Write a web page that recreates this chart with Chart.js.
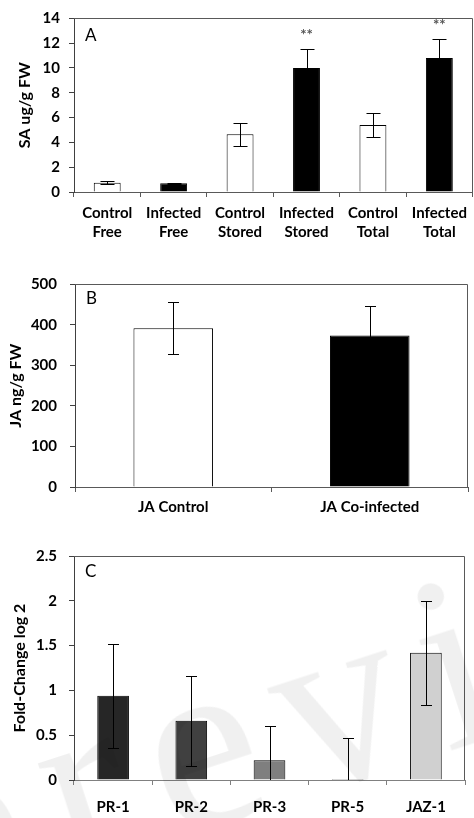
<!DOCTYPE html>
<html>
<head>
<meta charset="utf-8">
<script src="https://cdn.jsdelivr.net/npm/chart.js@4.4.1/dist/chart.umd.min.js"></script>
<style>
    html, body { margin: 0; padding: 0; background: #fff; }
    #page { position: relative; width: 474px; height: 818px; overflow: hidden; }
    .panel { position: absolute; left: 0; width: 474px; }
    #panelA { top: 0; height: 262px; }
    #panelB { top: 262px; height: 265px; }
    #panelC { top: 527px; height: 291px; }
    #stamp {
        position: absolute; left: -75px; top: 712px;
        font-family: "Liberation Serif", serif; font-size: 250px; line-height: 250px;
        letter-spacing: 26px; color: rgba(0, 0, 0, 0.06);
        transform: rotate(-18deg); transform-origin: 0 209px;
        white-space: nowrap; pointer-events: none; z-index: 5;
    }
</style>
</head>
<body>
<div id="page">
    <div class="panel" id="panelA"><canvas id="chartA" width="474" height="262"></canvas></div>
    <div class="panel" id="panelB"><canvas id="chartB" width="474" height="265"></canvas></div>
    <div class="panel" id="panelC"><canvas id="chartC" width="474" height="291"></canvas></div>
    <div id="stamp">preview</div>
</div>
<script>
// A - salicylic acid, free / stored / total
var saLabels = [['Control', 'Free'], ['Infected', 'Free'], ['Control', 'Stored'], ['Infected', 'Stored'], ['Control', 'Total'], ['Infected', 'Total']];
var saValues = [0.75, 0.7, 4.65, 10.0, 5.4, 10.8];
var saErrors = [0.12, 0.05, 0.93, 1.5, 0.95, 1.5];
var saStars = ['', '', '', '**', '', '**'];
var saColors = ['#ffffff', '#000000', '#ffffff', '#000000', '#ffffff', '#000000'];

// B - jasmonic acid
var jaLabels = ['JA Control', 'JA Co-infected'];
var jaValues = [392, 374];
var jaErrors = [65, 73];
var jaColors = ['#ffffff', '#000000'];

// C - expression, fold change (log 2)
var geneLabels = ['PR-1', 'PR-2', 'PR-3', 'PR-5', 'JAZ-1'];
var geneValues = [0.94, 0.66, 0.22, 0.01, 1.42];
var geneErrors = [0.58, 0.5, 0.38, 0.46, 0.58];
var geneColors = ['#262626', '#404040', '#7f7f7f', '#a6a6a6', '#d0d0d0'];

var tickFont = { family: 'Lato', weight: 'bold', size: 15, lineHeight: 1.25 };
var titleFont = { family: 'Lato', weight: 'bold', size: 16 };

// frame, error bars, significance marks and the panel letter
var panelExtras = {
    id: 'panelExtras',
    afterDatasetsDraw: function (chart, args, opts) {
        var ctx = chart.ctx;
        var area = chart.chartArea;
        var ds = chart.data.datasets[0];
        var meta = chart.getDatasetMeta(0);
        var y = chart.scales.y;

        ctx.save();
        ctx.lineWidth = 1;
        ctx.strokeStyle = opts.frameColor;
        ctx.beginPath();
        ctx.moveTo(area.left, Math.round(area.top) + 0.5);
        ctx.lineTo(Math.round(area.right) - 0.5, Math.round(area.top) + 0.5);
        ctx.lineTo(Math.round(area.right) - 0.5, area.bottom);
        ctx.stroke();

        // clip so the lower whisker stops at the zero line
        ctx.save();
        ctx.beginPath();
        ctx.rect(area.left, area.top, area.right - area.left, area.bottom - area.top);
        ctx.clip();
        ctx.strokeStyle = opts.errorColor;
        var half = opts.capWidth / 2;
        meta.data.forEach(function (bar, i) {
            var v = ds.data[i], e = ds.errors[i];
            var x = Math.round(bar.x) + 0.5;
            var hi = Math.round(y.getPixelForValue(v + e)) + 0.5;
            var lo = Math.round(y.getPixelForValue(v - e)) + 0.5;
            ctx.beginPath();
            ctx.moveTo(x, hi); ctx.lineTo(x, lo);
            ctx.moveTo(x - half, hi); ctx.lineTo(x + half, hi);
            ctx.moveTo(x - half, lo); ctx.lineTo(x + half, lo);
            ctx.stroke();
        });
        ctx.restore();

        if (ds.stars) {
            ctx.fillStyle = '#555';
            ctx.font = 'bold 15px Lato';
            ctx.textAlign = 'center';
            ctx.textBaseline = 'middle';
            meta.data.forEach(function (bar, i) {
                if (!ds.stars[i]) return;
                var top = y.getPixelForValue(ds.data[i] + ds.errors[i]);
                ctx.fillText(ds.stars[i], bar.x, top - 14);
            });
        }

        ctx.fillStyle = '#000';
        ctx.font = '17px Lato';
        ctx.textAlign = 'left';
        ctx.textBaseline = 'alphabetic';
        ctx.fillText(opts.letter, area.left + 11, area.top + opts.letterY);
        ctx.restore();
    }
};

function plainNumber(value) {
    return String(Number(value.toFixed(2)));
}

function buildPanel(id, cfg) {
    return new Chart(document.getElementById(id), {
        type: 'bar',
        data: {
            labels: cfg.labels,
            datasets: [{
                data: cfg.values,
                errors: cfg.errors,
                stars: cfg.stars,
                backgroundColor: cfg.colors,
                borderColor: '#000',
                borderWidth: 1,
                barPercentage: 0.405,
                categoryPercentage: 1
            }]
        },
        options: {
            responsive: false,
            animation: false,
            layout: { padding: cfg.padding },
            plugins: {
                legend: { display: false },
                tooltip: { enabled: false },
                panelExtras: { letter: cfg.letter, letterY: cfg.letterY, frameColor: '#595959', errorColor: '#000', capWidth: cfg.cap }
            },
            scales: {
                x: {
                    grid: { offset: true, drawOnChartArea: false, tickLength: 5, color: cfg.xLine },
                    border: { color: cfg.xLine },
                    ticks: { padding: cfg.xPad, color: '#000', font: tickFont, maxRotation: 0, autoSkip: false },
                    afterFit: function (s) { s.height = cfg.xHeight; }
                },
                y: {
                    min: 0,
                    max: cfg.max,
                    ticks: { stepSize: cfg.step, padding: cfg.yPad, color: '#000', font: tickFont, callback: plainNumber },
                    grid: { drawOnChartArea: false, tickLength: 5, color: '#404040' },
                    border: { color: '#404040' },
                    title: { display: true, text: cfg.title, color: '#000', font: titleFont, padding: { top: cfg.titlePad, bottom: 0 } },
                    afterFit: function (s) { s.width = cfg.yWidth; }
                }
            }
        },
        plugins: [panelExtras]
    });
}

buildPanel('chartA', {
    labels: saLabels, values: saValues, errors: saErrors, stars: saStars, colors: saColors,
    max: 14, step: 2, title: 'SA ug/g FW', letter: 'A', letterY: 23, cap: 14,
    padding: { top: 12, right: 1, left: 0, bottom: 0 },
    xHeight: 70, yWidth: 74, xPad: 7, yPad: 9, titlePad: 15, xLine: '#595959'
});

buildPanel('chartB', {
    labels: jaLabels, values: jaValues, errors: jaErrors, colors: jaColors,
    max: 500, step: 100, title: 'JA ng/g FW', letter: 'B', letterY: 20, cap: 11,
    padding: { top: 15, right: 6, left: 0, bottom: 0 },
    xHeight: 40, yWidth: 75, xPad: 6, yPad: 13, titlePad: 6, xLine: '#595959'
});

buildPanel('chartC', {
    labels: geneLabels, values: geneValues, errors: geneErrors, colors: geneColors,
    max: 2.5, step: 0.5, title: 'Fold-Change log 2', letter: 'C', letterY: 21, cap: 11,
    padding: { top: 29, right: 9, left: 0, bottom: 0 },
    xHeight: 38, yWidth: 74, xPad: 13, yPad: 12, titlePad: 10, xLine: '#808080'
});
</script>
</body>
</html>
